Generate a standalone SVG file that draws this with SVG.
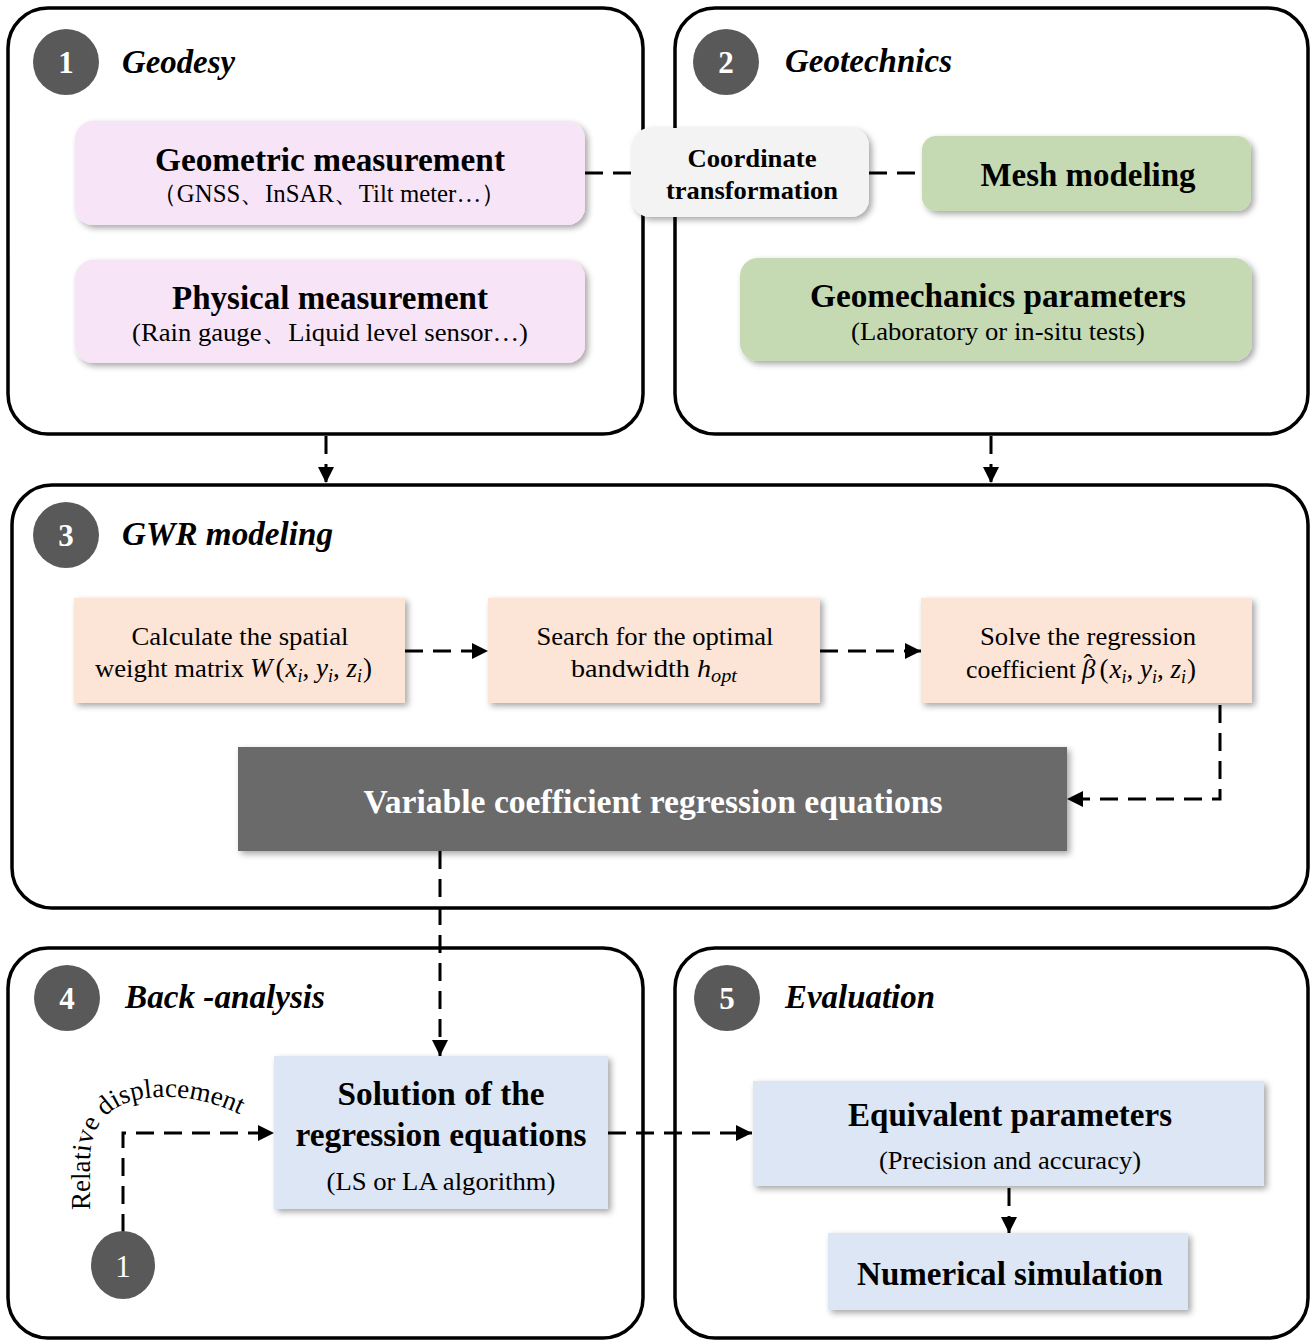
<svg xmlns="http://www.w3.org/2000/svg" width="1310" height="1342" viewBox="0 0 1310 1342">
<defs>
<style>
.panel{fill:#fff;stroke:#000;stroke-width:3.5}
.badge{fill:#595959}
.bnum{font-family:"Liberation Serif",serif;font-weight:bold;font-size:31px;fill:#fff;text-anchor:middle}
.sec{font-family:"Liberation Serif",serif;font-weight:bold;font-style:italic;font-size:33px;fill:#000}
.bt{font-family:"Liberation Serif",serif;font-weight:bold;font-size:33px;fill:#000;text-anchor:middle}
.st{font-family:"Liberation Serif",serif;font-size:25px;fill:#000;text-anchor:middle}
.mt{font-family:"Liberation Serif",serif;font-size:27px;font-style:italic;fill:#000}
.pink{fill:#f7e5f7}
.green{fill:#c5dab3}
.peach{fill:#fce4d6}
.blue{fill:#dde6f4}
.grey{fill:#f3f3f3}
.dark{fill:#6b6b6b}
.conn{fill:none;stroke:#000;stroke-width:3;stroke-dasharray:18 10}
.up{font-style:normal}
</style>
<filter id="sh" x="-10%" y="-20%" width="125%" height="150%">
<feDropShadow dx="3" dy="3" stdDeviation="3" flood-color="#000" flood-opacity="0.35"/>
</filter>
<marker id="ah" viewBox="0 0 10 10" refX="10" refY="5" markerUnits="userSpaceOnUse" markerWidth="18" markerHeight="16" orient="auto">
<path d="M0,0 L10,5 L0,10 z" fill="#000"/>
</marker>
<path id="arc" d="M90,1210 L90,1160 C90,1120 115,1098 160,1097 C195,1096 230,1105 270,1132"/>
</defs>
<rect width="1310" height="1342" fill="#fff"/>

<g id="panel1">
<rect class="panel" x="8" y="8" width="635" height="426" rx="40"/>
<circle class="badge" cx="66" cy="62" r="33"/>
<text class="bnum" x="66" y="73">1</text>
<text class="sec" x="122" y="73" textLength="113" lengthAdjust="spacingAndGlyphs">Geodesy</text>
</g>
<g id="panel2">
<rect class="panel" x="675" y="8" width="633" height="426" rx="40"/>
<circle class="badge" cx="726" cy="62" r="33"/>
<text class="bnum" x="726" y="73">2</text>
<text class="sec" x="785" y="72" textLength="167" lengthAdjust="spacingAndGlyphs">Geotechnics</text>
</g>
<g id="panel3">
<rect class="panel" x="12" y="485" width="1296" height="423" rx="40"/>
<circle class="badge" cx="66" cy="535" r="33"/>
<text class="bnum" x="66" y="546">3</text>
<text class="sec" x="122" y="545" textLength="211" lengthAdjust="spacingAndGlyphs">GWR modeling</text>
</g>
<g id="panel4">
<rect class="panel" x="8" y="948" width="635" height="390" rx="40"/>
<circle class="badge" cx="67" cy="998" r="33"/>
<text class="bnum" x="67" y="1009">4</text>
<text class="sec" x="125" y="1008" textLength="200" lengthAdjust="spacingAndGlyphs">Back -analysis</text>
</g>
<g id="panel5">
<rect class="panel" x="675" y="948" width="633" height="390" rx="40"/>
<circle class="badge" cx="727" cy="998" r="33"/>
<text class="bnum" x="727" y="1009">5</text>
<text class="sec" x="785" y="1008" textLength="150" lengthAdjust="spacingAndGlyphs">Evaluation</text>
</g>

<g id="connectors">
<path class="conn" d="M585,173 H632"/>
<path class="conn" d="M869,173 H922"/>
<path class="conn" d="M326,436 V483" marker-end="url(#ah)"/>
<path class="conn" d="M991,436 V483" marker-end="url(#ah)"/>
<path class="conn" d="M405,651 H488" marker-end="url(#ah)"/>
<path class="conn" d="M820,651 H921" marker-end="url(#ah)"/>
<path class="conn" d="M1220,705 V799 H1067" marker-end="url(#ah)"/>
<path class="conn" d="M440,851 V1056" marker-end="url(#ah)"/>
<path class="conn" d="M608,1133 H752" marker-end="url(#ah)"/>
<path class="conn" d="M1009,1188 V1233" marker-end="url(#ah)"/>
<path class="conn" d="M123,1232 V1133 H274" marker-end="url(#ah)"/>
<text font-family="Liberation Serif, serif" font-size="27"><textPath href="#arc" startOffset="0">Relative displacement</textPath></text>
</g>

<g id="geometric">
<rect class="pink" x="75" y="121" width="510" height="104" rx="18" filter="url(#sh)"/>
<text class="bt" x="330" y="171" textLength="350" lengthAdjust="spacingAndGlyphs">Geometric measurement</text>
<text class="st" x="329" y="202" textLength="354" lengthAdjust="spacingAndGlyphs">（GNSS、InSAR、Tilt meter…）</text>
</g>
<g id="physical">
<rect class="pink" x="75" y="260" width="510" height="103" rx="18" filter="url(#sh)"/>
<text class="bt" x="330" y="309" textLength="316" lengthAdjust="spacingAndGlyphs">Physical measurement</text>
<text class="st" x="330" y="341" textLength="396" lengthAdjust="spacingAndGlyphs">(Rain gauge、Liquid level sensor…)</text>
</g>
<g id="coord">
<rect class="grey" x="632" y="128" width="237" height="89" rx="18" filter="url(#sh)"/>
<text class="bt" x="752" y="167" style="font-size:26px" textLength="129" lengthAdjust="spacingAndGlyphs">Coordinate</text>
<text class="bt" x="752" y="199" style="font-size:26px" textLength="172" lengthAdjust="spacingAndGlyphs">transformation</text>
</g>
<g id="mesh">
<rect class="green" x="922" y="136" width="329" height="75" rx="14" filter="url(#sh)"/>
<text class="bt" x="1088" y="186" textLength="215" lengthAdjust="spacingAndGlyphs">Mesh modeling</text>
</g>
<g id="geomech">
<rect class="green" x="740" y="258" width="512" height="103" rx="18" filter="url(#sh)"/>
<text class="bt" x="998" y="307" textLength="376" lengthAdjust="spacingAndGlyphs">Geomechanics parameters</text>
<text class="st" x="998" y="340" textLength="294" lengthAdjust="spacingAndGlyphs">(Laboratory or in-situ tests)</text>
</g>

<g id="calcW">
<rect class="peach" x="74" y="598" width="331" height="105" filter="url(#sh)"/>
<text class="st" x="240" y="645" textLength="217" lengthAdjust="spacingAndGlyphs">Calculate the spatial</text>
<text class="st" x="95" y="677" style="text-anchor:start" textLength="149" lengthAdjust="spacingAndGlyphs">weight matrix</text>
<text class="mt" x="250" y="677">W<tspan class="up" dx="3">(</tspan><tspan dx="1">x</tspan><tspan font-size="18" dy="5">i</tspan><tspan class="up" dy="-5">, </tspan>y<tspan font-size="18" dy="5">i</tspan><tspan class="up" dy="-5">, </tspan>z<tspan font-size="18" dy="5">i</tspan><tspan class="up" dy="-5" dx="1">)</tspan></text>
</g>
<g id="searchH">
<rect class="peach" x="488" y="598" width="332" height="105" filter="url(#sh)"/>
<text class="st" x="655" y="645" textLength="237" lengthAdjust="spacingAndGlyphs">Search for the optimal</text>
<text class="st" x="571" y="677" style="text-anchor:start" textLength="166" lengthAdjust="spacingAndGlyphs">bandwidth <tspan font-style="italic">h</tspan><tspan font-style="italic" font-size="18" dy="5">opt</tspan></text>
</g>
<g id="solveB">
<rect class="peach" x="921" y="598" width="331" height="105" filter="url(#sh)"/>
<text class="st" x="1088" y="645" textLength="216" lengthAdjust="spacingAndGlyphs">Solve the regression</text>
<text class="st" x="966" y="678" style="text-anchor:start" textLength="110" lengthAdjust="spacingAndGlyphs">coefficient</text>
<text class="mt" x="1082" y="678">β<tspan class="up" dx="-12" dy="-5">ˆ</tspan><tspan class="up" dx="7" dy="5">(</tspan><tspan dx="1">x</tspan><tspan font-size="18" dy="5">i</tspan><tspan class="up" dy="-5">, </tspan>y<tspan font-size="18" dy="5">i</tspan><tspan class="up" dy="-5">, </tspan>z<tspan font-size="18" dy="5">i</tspan><tspan class="up" dy="-5" dx="1">)</tspan></text>
</g>
<g id="varcoef">
<rect class="dark" x="238" y="747" width="829" height="104" filter="url(#sh)"/>
<text class="bt" x="653" y="813" style="fill:#fff" textLength="579" lengthAdjust="spacingAndGlyphs">Variable coefficient regression equations</text>
</g>

<g id="solution">
<rect class="blue" x="274" y="1056" width="334" height="153" filter="url(#sh)"/>
<text class="bt" x="441" y="1105" textLength="207" lengthAdjust="spacingAndGlyphs">Solution of the</text>
<text class="bt" x="441" y="1146" textLength="291" lengthAdjust="spacingAndGlyphs">regression equations</text>
<text class="st" x="441" y="1190" textLength="229" lengthAdjust="spacingAndGlyphs">(LS or LA algorithm)</text>
</g>
<g id="badge1b">
<ellipse class="badge" cx="123" cy="1265" rx="32" ry="34"/>
<text class="bnum" x="123" y="1277" style="font-weight:normal">1</text>
</g>
<g id="equivalent">
<rect class="blue" x="753" y="1081" width="511" height="105" filter="url(#sh)"/>
<text class="bt" x="1010" y="1126" textLength="324" lengthAdjust="spacingAndGlyphs">Equivalent parameters</text>
<text class="st" x="1010" y="1169" textLength="262" lengthAdjust="spacingAndGlyphs">(Precision and accuracy)</text>
</g>
<g id="numerical">
<rect class="blue" x="828" y="1233" width="360" height="77" filter="url(#sh)"/>
<text class="bt" x="1010" y="1285" textLength="306" lengthAdjust="spacingAndGlyphs">Numerical simulation</text>
</g>
</svg>
